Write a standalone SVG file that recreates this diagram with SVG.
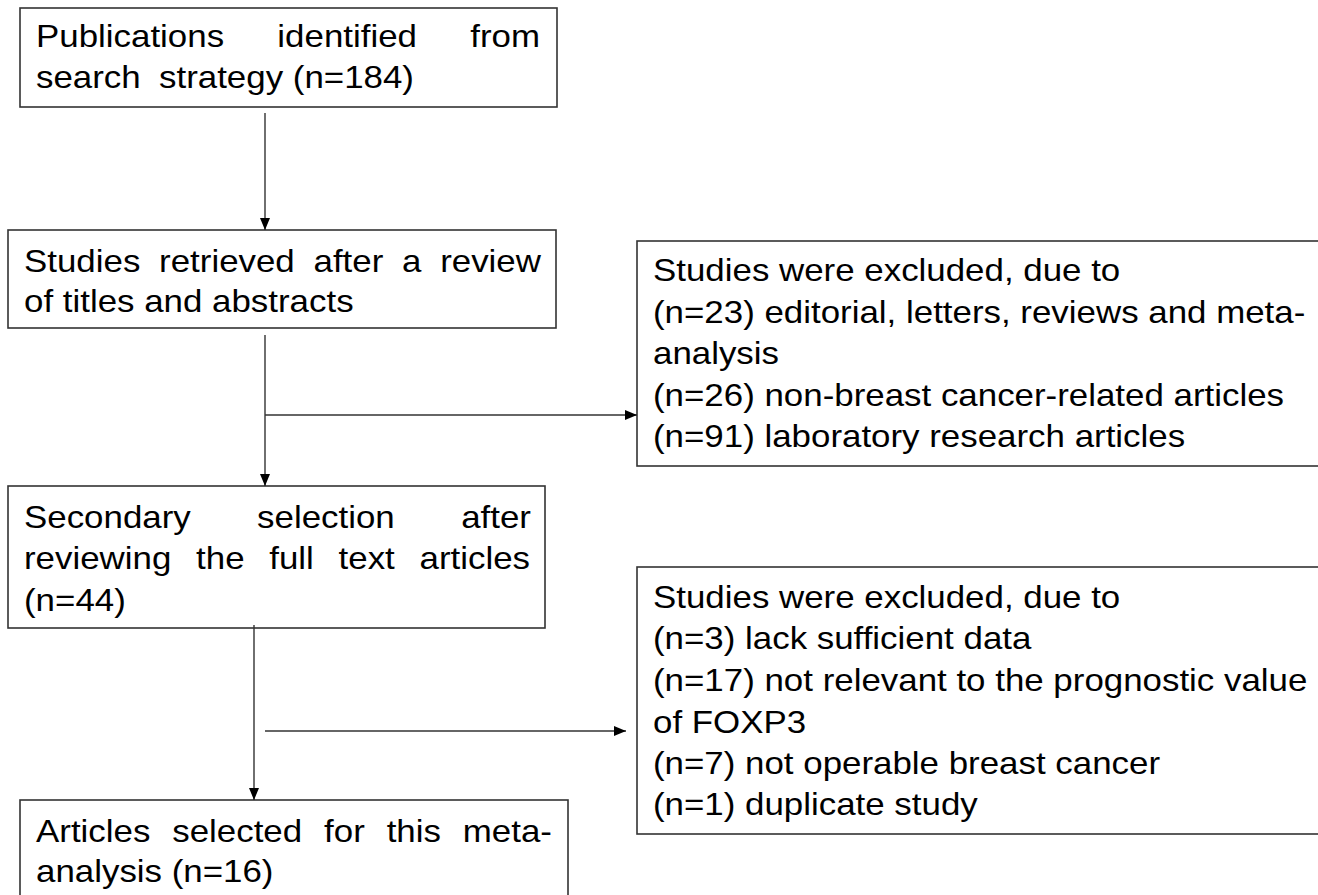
<svg xmlns="http://www.w3.org/2000/svg" width="1318" height="895" viewBox="0 0 1318 895">
<style>
.box{fill:#fff;stroke:#333;stroke-width:1.6}
.t{font-family:"Liberation Sans",Arial,sans-serif;font-size:32px;fill:#000}
.c{stroke:#333;stroke-width:1.4;fill:none}
</style>
<defs>
<marker id="ah" viewBox="0 0 12 10" refX="12" refY="5" markerWidth="12" markerHeight="10" markerUnits="userSpaceOnUse" orient="auto">
<path d="M0,0 L12,5 L0,10 Z" fill="#000"/>
</marker>
</defs>
<rect width="1318" height="895" fill="#fff"/>
<g id="n1">
<rect class="box" x="20" y="8" width="537" height="99"/>
<g transform="scale(1.09,1)">
<text class="t" x="33.03" y="47" word-spacing="40">Publications identified from</text>
<text class="t" y="88"><tspan x="33.03">search</tspan><tspan x="145.9">strategy (n=184)</tspan></text>
</g>
</g>
<g id="n2">
<rect class="box" x="8" y="230" width="548" height="98"/>
<g transform="scale(1.09,1)">
<text class="t" x="22.02" y="272" word-spacing="8.3">Studies retrieved after a review</text>
<text class="t" x="22.02" y="312">of titles and abstracts</text>
</g>
</g>
<g id="n3">
<rect class="box" x="637" y="241" width="700" height="225"/>
<g transform="scale(1.09,1)">
<text class="t" x="599.08" y="281.5">Studies were excluded, due to</text>
<text class="t" x="599.08" y="323">(n=23) editorial, letters, reviews and meta-</text>
<text class="t" x="599.08" y="364.5">analysis</text>
<text class="t" x="599.08" y="406">(n=26) non-breast cancer-related articles</text>
<text class="t" x="599.08" y="447.5">(n=91) laboratory research articles</text>
</g>
</g>
<g id="n4">
<rect class="box" x="8" y="486" width="537" height="142"/>
<g transform="scale(1.09,1)">
<text class="t" x="22.02" y="528" word-spacing="52">Secondary selection after</text>
<text class="t" x="22.02" y="569" word-spacing="13.8">reviewing the full text articles</text>
<text class="t" x="22.02" y="611">(n=44)</text>
</g>
</g>
<g id="n5">
<rect class="box" x="637" y="567" width="700" height="267"/>
<g transform="scale(1.09,1)">
<text class="t" x="599.08" y="608.5">Studies were excluded, due to</text>
<text class="t" x="599.08" y="649.5">(n=3) lack sufficient data</text>
<text class="t" x="599.08" y="691">(n=17) not relevant to the prognostic value</text>
<text class="t" x="599.08" y="732.5">of FOXP3</text>
<text class="t" x="599.08" y="774.5">(n=7) not operable breast cancer</text>
<text class="t" x="599.08" y="815.5">(n=1) duplicate study</text>
</g>
</g>
<g id="n6">
<rect class="box" x="20" y="800" width="548" height="120"/>
<g transform="scale(1.09,1)">
<text class="t" x="33.03" y="842" word-spacing="11.2">Articles selected for this meta-</text>
<text class="t" x="33.03" y="882">analysis (n=16)</text>
</g>
</g>
<g id="connectors">
<line class="c" x1="265" y1="113" x2="265" y2="230" marker-end="url(#ah)"/>
<line class="c" x1="265" y1="335" x2="265" y2="486" marker-end="url(#ah)"/>
<line class="c" x1="265" y1="415" x2="637" y2="415" marker-end="url(#ah)"/>
<line class="c" x1="254" y1="625" x2="254" y2="800" marker-end="url(#ah)"/>
<line class="c" x1="265" y1="731" x2="626" y2="731" marker-end="url(#ah)"/>
</g>
</svg>
